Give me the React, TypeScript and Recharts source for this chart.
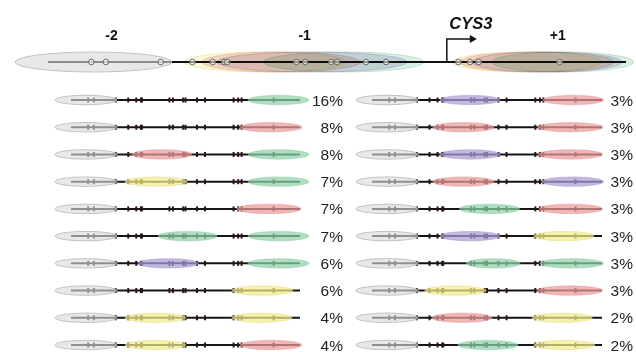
import React from 'react';
import { ComposedChart, XAxis, YAxis, ReferenceArea, ReferenceLine, Scatter } from 'recharts';

// genomic coordinates (bp, relative to the CYS3 transcription start site)
const LINE_START = -690;
const LINE_END = 310;
const markerPositions = [-615, -590, -495, -440, -405, -385, -380, -260, -245, -200, -190, -140, -105, 20, 40, 55, 195];

type ColorKey = 'gray' | 'yellow' | 'red' | 'purple' | 'green';
type Nuc = [number, number, ColorKey];

const fills: Record<ColorKey, string> = {
  gray: '#dadada',
  yellow: '#f3ed8c',
  red: '#ec9a9a',
  purple: '#ab9dd6',
  green: '#8fd3a9',
};
const strokes: Record<ColorKey, string> = {
  gray: '#bcbcbc',
  yellow: '#d9d172',
  red: '#d98787',
  purple: '#9789c6',
  green: '#79c193',
};

// top: composite map of nucleosome positions
const topNucleosomes: Nuc[] = [
  [-747, -476, 'gray'],
  [-455, -173, 'yellow'],
  [-424, -150, 'red'],
  [-398, -69, 'purple'],
  [-317, -40, 'green'],
  [9, 268, 'yellow'],
  [22, 289, 'red'],
  [43, 303, 'purple'],
  [78, 323, 'green'],
];
const topLabels = [
  { x: -580, text: '-2' },
  { x: -246, text: '-1' },
  { x: 192, text: '+1' },
];
const tss = { x: 0, gene: 'CYS3' };

// rows: individual configurations
const minus2: Nuc = [-760, -490, 'gray'];
const leftLabels = ['16%', '8%', '8%', '7%', '7%', '7%', '6%', '6%', '4%', '4%'];
const leftNucs: Nuc[][] = [
  [minus2, [83, 349, 'green']],
  [minus2, [48, 319, 'red']],
  [minus2, [-424, -162, 'red'], [83, 349, 'green']],
  [minus2, [-454, -183, 'yellow'], [83, 349, 'green']],
  [minus2, [33, 315, 'red']],
  [minus2, [-310, -52, 'green'], [83, 349, 'green']],
  [minus2, [-397, -135, 'purple'], [83, 349, 'green']],
  [minus2, [13, 279, 'yellow']],
  [minus2, [-454, -188, 'yellow'], [13, 275, 'yellow']],
  [minus2, [-454, -188, 'yellow'], [48, 319, 'red']],
];
const rightLabels = ['3%', '3%', '3%', '3%', '3%', '3%', '3%', '3%', '2%', '2%'];
const rightNucs: Nuc[][] = [
  [minus2, [-395, -133, 'purple'], [52, 317, 'red']],
  [minus2, [-426, -159, 'red'], [30, 314, 'red']],
  [minus2, [-395, -133, 'purple'], [33, 312, 'red']],
  [minus2, [-426, -159, 'red'], [48, 317, 'purple']],
  [minus2, [-310, -48, 'green'], [35, 312, 'red']],
  [minus2, [-395, -133, 'purple'], [13, 275, 'yellow']],
  [minus2, [-280, -46, 'green'], [39, 317, 'green']],
  [minus2, [-461, -194, 'yellow'], [28, 312, 'red']],
  [minus2, [-430, -168, 'red'], [6, 268, 'yellow']],
  [minus2, [-317, -55, 'green'], [13, 279, 'yellow']],
];

const FONT = '"Liberation Sans", Arial, Helvetica, sans-serif';

const ellipseShape = (c: ColorKey, ry: number, opacity: number, multiply = false) => (p: any) => {
  const w = Math.abs(p.width);
  const x = Math.min(p.x, p.x + p.width);
  const cy = p.y + p.height / 2;
  return (
    <ellipse
      cx={x + w / 2}
      cy={cy}
      rx={w / 2}
      ry={ry}
      fill={fills[c]}
      fillOpacity={opacity}
      stroke={strokes[c]}
      strokeOpacity={c === 'gray' ? 0.9 : 0.4}
      strokeWidth={1}
      style={multiply ? { mixBlendMode: 'multiply' } : undefined}
    />
  );
};

function TopMap() {
  const circles = markerPositions.map((x) => ({ x, y: 0 }));
  const labels = topLabels.map((l) => ({ x: l.x, y: 0, text: l.text }));
  return (
    <ComposedChart width={636} height={90} margin={{ top: 34, right: 10, bottom: 0, left: 48 }}>
      <XAxis type="number" dataKey="x" domain={[LINE_START, LINE_END]} hide />
      <YAxis type="number" dataKey="y" domain={[-1, 1]} hide />
      <ReferenceLine
        segment={[{ x: LINE_START, y: 0 }, { x: LINE_END, y: 0 }]}
        stroke="#111"
        strokeWidth={1.8}
        ifOverflow="visible"
        zIndex={100}
      />
      {topNucleosomes.map((n, i) => (
        <ReferenceArea
          key={'t' + i}
          x1={n[0]}
          x2={n[1]}
          y1={-0.2}
          y2={0.2}
          ifOverflow="visible"
          shape={ellipseShape(n[2], 10, n[2] === 'gray' ? 0.62 : 0.34, n[2] !== 'gray')}
          zIndex={200}
        />
      ))}
      <Scatter
        data={circles}
        isAnimationActive={false}
        zIndex={300}
        shape={(p: any) => (
          <circle cx={p.cx} cy={p.cy} r={2.8} fill="#fff" fillOpacity={0.55} stroke="#6a6a6a" strokeWidth={1} />
        )}
      />
      <Scatter
        data={labels}
        isAnimationActive={false}
        zIndex={400}
        shape={(p: any) => (
          <text x={p.cx} y={p.cy - 22} textAnchor="middle" fontFamily={FONT} fontWeight="bold" fontSize={14} fill="#111">
            {p.payload.text}
          </text>
        )}
      />
      <Scatter
        data={[{ x: tss.x, y: 0, gene: tss.gene }]}
        isAnimationActive={false}
        zIndex={400}
        shape={(p: any) => (
          <g>
            <path d={`M${p.cx},${p.cy} V${p.cy - 23} H${p.cx + 25}`} fill="none" stroke="#111" strokeWidth={1.5} />
            <path d={`M${p.cx + 23},${p.cy - 27} L${p.cx + 30},${p.cy - 23} L${p.cx + 23},${p.cy - 19} Z`} fill="#111" />
            <text
              x={p.cx + 24}
              y={p.cy - 33}
              textAnchor="middle"
              fontFamily={FONT}
              fontWeight="bold"
              fontStyle="italic"
              fontSize={16.5}
              fill="#111"
            >
              {p.payload.gene}
            </text>
          </g>
        )}
      />
    </ComposedChart>
  );
}

function RowChart(props: {
  left: number;
  width: number;
  marginLeft: number;
  marginRight: number;
  labelOffset: number;
  labels: string[];
  nucs: Nuc[][];
}) {
  const { left, width, marginLeft, marginRight, labelOffset, labels, nucs } = props;
  const ticks: { x: number; y: number }[] = [];
  nucs.forEach((_, i) => markerPositions.forEach((m) => ticks.push({ x: m, y: i })));
  const labelData = labels.map((t, i) => ({ x: LINE_END, y: i, text: t }));
  return (
    <div style={{ position: 'absolute', left, top: 80 }}>
      <ComposedChart width={width} height={272} margin={{ top: 20, right: marginRight, bottom: 7, left: marginLeft }}>
        <XAxis type="number" dataKey="x" domain={[LINE_START, LINE_END]} hide />
        <YAxis type="number" dataKey="y" domain={[0, nucs.length - 1]} reversed hide />
        {nucs.map((_, i) => (
          <ReferenceLine
            key={'l' + i}
            segment={[{ x: LINE_START, y: i }, { x: LINE_END, y: i }]}
            stroke="#151515"
            strokeWidth={2}
            ifOverflow="visible"
            zIndex={100}
          />
        ))}
        <Scatter
          data={ticks}
          isAnimationActive={false}
          zIndex={150}
          shape={(p: any) => <rect x={p.cx - 1} y={p.cy - 2.5} width={2} height={5} fill="#2a1616" />}
        />
        {nucs.map((row, i) =>
          row.map((n, j) => (
            <ReferenceArea
              key={'e' + i + '-' + j}
              x1={n[0]}
              x2={n[1]}
              y1={i - 0.1}
              y2={i + 0.1}
              ifOverflow="visible"
              shape={ellipseShape(n[2], 4.7, n[2] === 'gray' ? 0.62 : 0.72)}
              zIndex={200}
            />
          ))
        )}
        <Scatter
          data={labelData}
          isAnimationActive={false}
          zIndex={400}
          shape={(p: any) => (
            <text x={p.cx + labelOffset} y={p.cy + 5.5} textAnchor="end" fontFamily={FONT} fontSize={15.5} fill="#1e1e1e">
              {p.payload.text}
            </text>
          )}
        />
      </ComposedChart>
    </div>
  );
}

export default function App() {
  return (
    <div style={{ position: 'absolute', left: 0, top: 0, width: 636, height: 352, background: '#fff', overflow: 'hidden' }}>
      <div style={{ position: 'absolute', left: 0, top: 0 }}>
        <TopMap />
      </div>
      <RowChart left={0} width={350} marginLeft={71} marginRight={50} labelOffset={43} labels={leftLabels} nucs={leftNucs} />
      <RowChart left={350} width={286} marginLeft={22} marginRight={34} labelOffset={31} labels={rightLabels} nucs={rightNucs} />
    </div>
  );
}
